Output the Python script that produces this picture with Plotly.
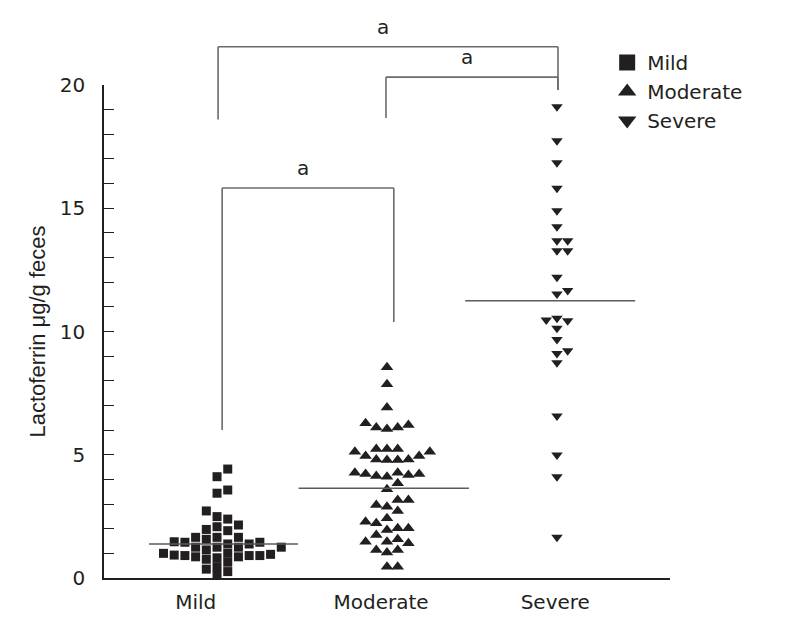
import numpy as np
import plotly.graph_objects as go

# ---------------- data ----------------
groups = ["Mild", "Moderate", "Severe"]

mild = [0.12, 0.26, 0.36, 0.46, 0.64,
        1.00, 0.91, 0.91, 0.82, 0.86, 0.93, 0.76, 0.86, 0.91, 0.96, 1.00,
        1.14, 1.25, 1.25, 1.25, 1.25,
        1.45, 1.45, 1.47, 1.38, 1.38,
        1.65, 1.65, 1.57, 1.65,
        1.92, 1.97, 2.08, 2.15, 2.39, 2.49, 2.72, 3.44, 3.57, 4.11, 4.42]

moderate = [8.55, 7.86, 6.92,
            6.28, 6.11, 6.04, 6.11, 6.21,
            5.12, 4.95, 5.23, 5.23, 5.23, 4.95, 5.12,
            4.81, 4.79, 4.79, 4.81,
            4.22, 4.22, 4.14, 4.11, 4.18, 4.27, 4.27,
            3.84, 3.60,
            3.16, 3.16, 2.96, 2.89, 2.72,
            2.42, 2.28, 2.22, 2.02, 1.95, 2.02, 1.74,
            1.47, 1.47, 1.57, 1.41, 1.14, 1.03, 1.14,
            0.46, 0.46]

severe = [1.65, 4.11, 4.99, 6.57, 8.73, 9.11, 9.22, 9.68, 10.13, 10.44,
          10.54, 10.47, 11.52, 11.66, 12.20, 13.28, 13.28, 13.68, 13.68,
          14.25, 14.90, 15.81, 16.85, 17.74, 19.12]

medians = [1.38, 3.64, 11.25]

# significance brackets: (group a, group b, bar level, drop at a, drop at b)
bracket_pairs = [(1, 3), (2, 3), (1, 2)]
bracket_levels = [21.55, 20.32, 15.82]
bracket_drop_left = [18.6, 18.66, 6.0]
bracket_drop_right = [19.8, 19.8, 10.39]
bracket_labels = ["a", "a", "a"]

y_ticks_major = [0, 5, 10, 15, 20]

# ---------------- styling / layout ----------------
INK = "#231f20"
YR = [0, 20]
XR = [0.335, 3.665]
FONT = "DejaVu Sans"


def swarm(vals, center, dx, dy_min):
    vals = np.asarray(vals, dtype=float)
    order = np.argsort(vals, kind="stable")
    placed = []
    xs = np.empty(len(vals))
    cand = [0]
    for k in range(1, 12):
        cand += [k, -k]
    for i in order:
        v = vals[i]
        for k in cand:
            if all(not (pk == k and abs(pv - v) < dy_min) for pk, pv in placed):
                break
        placed.append((k, v))
        xs[i] = center + k * dx
    return xs


def ypaper(v):
    return (v - YR[0]) / (YR[1] - YR[0])


fig = go.Figure()
series = [mild, moderate, severe]
symbols = ["square", "triangle-up", "triangle-down"]
sizes = [9, 11, 10]
dymins = [0.34, 0.38, 0.36]
for gi, (vals, sym, sz, dym) in enumerate(zip(series, symbols, sizes, dymins)):
    xs = swarm(vals, gi + 1, 0.063, dym)
    fig.add_trace(go.Scatter(x=xs, y=vals, mode="markers", showlegend=False,
                             marker=dict(symbol=sym, size=sz, color=INK,
                                         line=dict(width=0)),
                             hoverinfo="y"))
    fig.add_trace(go.Scatter(x=[None], y=[None], mode="markers", name=groups[gi],
                             marker=dict(symbol=sym, size=16, color=INK)))

# median lines
med_left = [0.6, 1.48, 2.46]
med_right = [1.476, 2.482, 3.46]
for m, a, b in zip(medians, med_left, med_right):
    fig.add_shape(type="line", xref="x", yref="y", x0=a, x1=b, y0=m, y1=m,
                  line=dict(color="#5a5a5a", width=1.6))

# brackets
bx_off = {(1, 3): (0.006, 0.006), (2, 3): (-0.006, 0.006), (1, 2): (0.03, 0.04)}
for (ga, gb), lev, dl, dr, lab in zip(bracket_pairs, bracket_levels,
                                      bracket_drop_left, bracket_drop_right,
                                      bracket_labels):
    oa, ob = bx_off[(ga, gb)]
    xa, xb = ga + oa, gb + ob
    for (x0, y0, x1, y1) in [(xa, dl, xa, lev), (xa, lev, xb, lev), (xb, lev, xb, dr)]:
        fig.add_shape(type="line", xref="x", yref="paper", x0=x0, x1=x1,
                      y0=ypaper(y0), y1=ypaper(y1),
                      line=dict(color="#6b6b6b", width=1.6))
    fig.add_annotation(x=(xa + xb) / 2 - 0.03, y=ypaper(lev), xref="x", yref="paper",
                       text=lab, showarrow=False, yanchor="bottom", yshift=6,
                       font=dict(family=FONT, size=20, color=INK))

# page has an 8px body margin: figure is sized/positioned to compensate
fig.update_layout(
    width=779, height=623,
    margin=dict(l=96, r=117, t=77, b=53),
    plot_bgcolor="white", paper_bgcolor="white",
    font=dict(family=FONT, size=20, color=INK),
    showlegend=True,
    legend=dict(x=0.889, y=1.085, xanchor="left", yanchor="top",
                bgcolor="rgba(0,0,0,0)", font=dict(family=FONT, size=20, color=INK),
                itemclick=False, tracegroupgap=0),
)
fig.update_xaxes(range=XR, showgrid=False, zeroline=False, showline=True,
                 linecolor=INK, linewidth=1.6, ticks="",
                 tickvals=[0.875, 1.965, 2.99], ticktext=groups,
                 tickfont=dict(family=FONT, size=20, color=INK),
                 ticklabelstandoff=5)
fig.update_yaxes(range=YR, showgrid=False, zeroline=False, showline=True,
                 linecolor=INK, linewidth=1.6,
                 tickvals=y_ticks_major, ticks="inside", ticklen=10, tickwidth=1.3,
                 tickcolor=INK,
                 minor=dict(dtick=1, ticks="inside", ticklen=10, tickwidth=1.3,
                            tickcolor=INK, showgrid=False),
                 tickfont=dict(family=FONT, size=20, color=INK),
                 ticklabelstandoff=13,
                 title=dict(text="Lactoferrin μg/g feces", standoff=8,
                            font=dict(family="Liberation Sans", size=22, color=INK)))

fig.write_html("out.html")
